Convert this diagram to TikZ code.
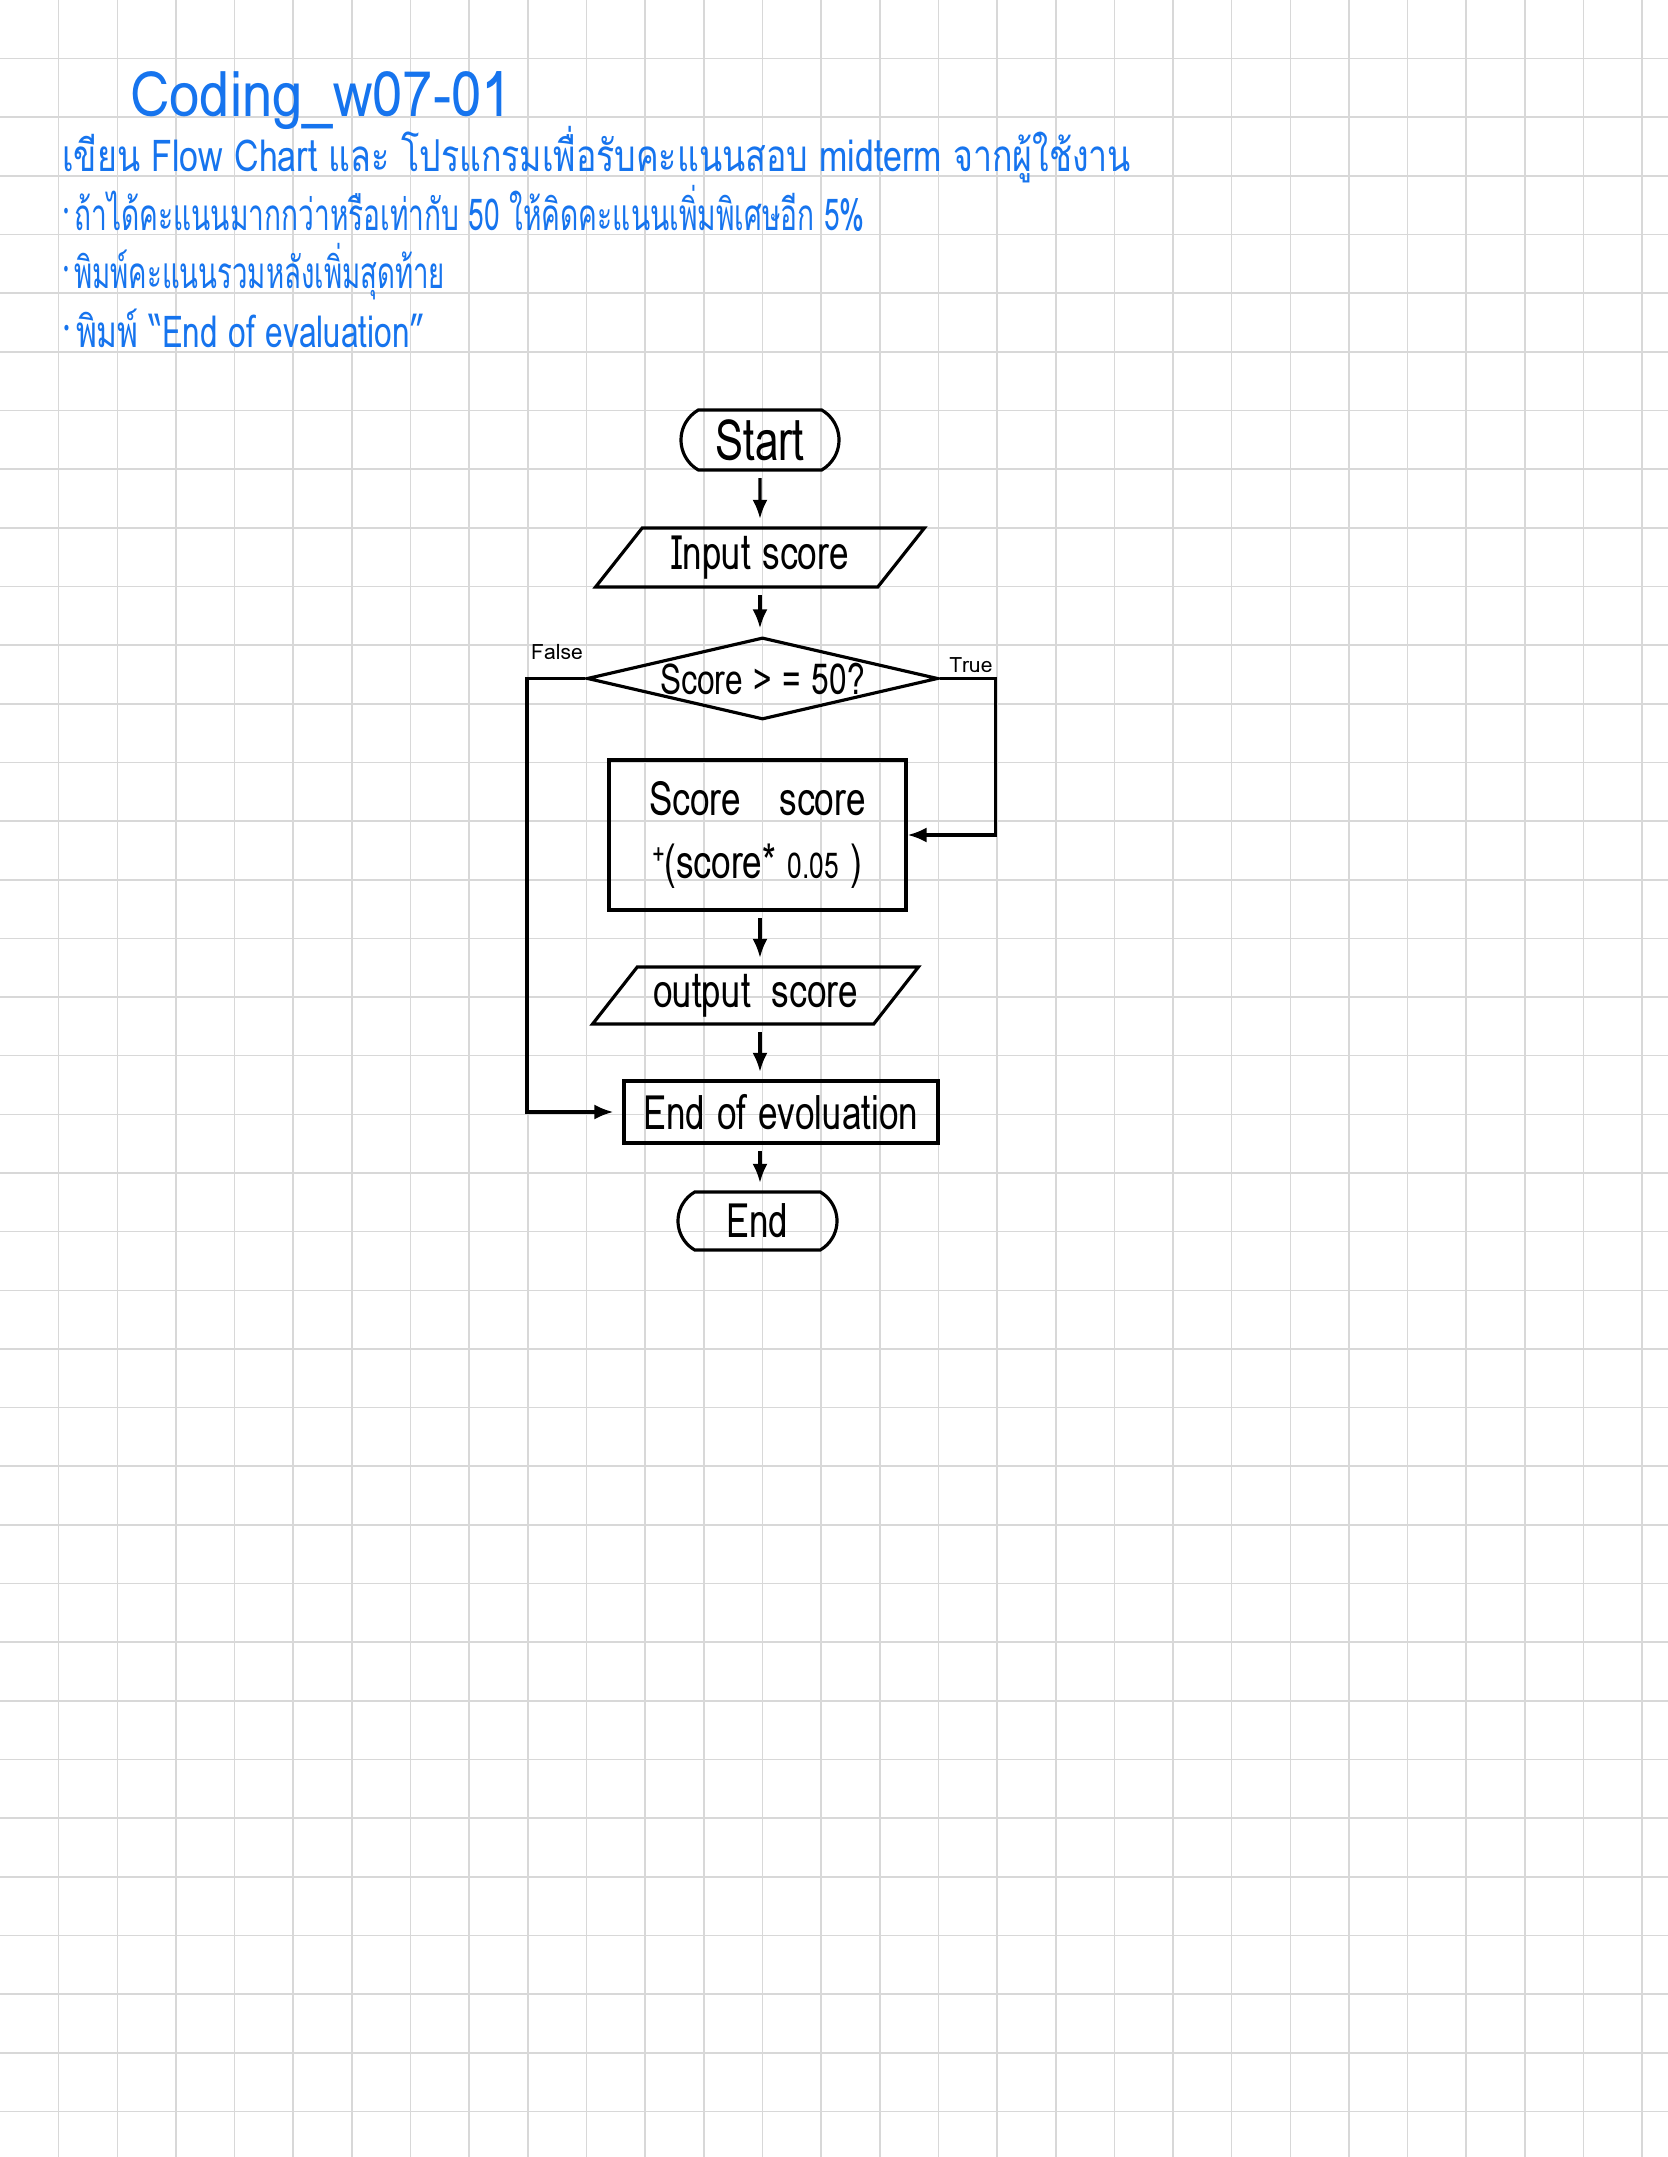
\documentclass[tikz,border=0pt]{standalone}
\usepackage{fontspec}
\setmainfont{Loma}[Script=Thai]
\newfontfamily\dejavu{DejaVu Sans}
\usepackage{tikz}
\usetikzlibrary{shapes,arrows.meta,positioning}
\definecolor{pen}{RGB}{22,116,238}
\definecolor{paper}{RGB}{216,216,216}
\newcommand{\dotitem}{\raisebox{0.55ex}{\dejavu\fontsize{9}{9}\selectfont •}\,}
\newcommand{\tall}[1]{\scalebox{1}[1.35]{#1}}

\begin{document}
\begin{tikzpicture}
				\tikzstyle{Grid}	= [draw=paper, line width=0.9pt]
				\tikzstyle{Note}	= [text=pen, anchor=base west, inner sep=0pt, font=\fontsize{20}{20}\selectfont]
				\tikzstyle{Hand}	= [font=\fontsize{20}{36}\selectfont]
				\tikzstyle{Box}		= [draw, line width=1.8pt, inner sep=0pt, align=center]
				\tikzstyle{Term}	= [rounded rectangle, rounded rectangle arc length=120]
				\tikzstyle{IO}		= [trapezium, trapezium stretches=true]
				\tikzstyle{Test}	= [diamond, aspect=4.28, inner ysep=-0.16cm]
				\tikzstyle{Flow}	= [line width=1.8pt, -{Latex[length=0.38cm,width=0.3cm]}]
				\tikzstyle{Gap}		= [shorten <=0.13cm, shorten >=0.15cm]
				\tikzstyle{Tag}		= [inner sep=0pt, font=\fontsize{12}{12}\selectfont]

				\useasboundingbox (0,0) rectangle (33.36,43.14);
				\fill [white] (0,0) rectangle (33.36,43.14);
				\foreach \i in {1,...,28} \draw [Grid] (\i*1.173,0) -- (\i*1.173,43.14);
				\foreach \j in {1,...,36} \draw [Grid] (0,43.14-\j*1.173) -- (33.36,43.14-\j*1.173);

				\node (title) at (2.60,40.80) [Note][font=\fontsize{31}{31}\selectfont] {\scalebox{1}[1.15]{Coding\_w07-01}};
				\node (task)  at (1.24,39.70) [Note] {\scalebox{0.965}[1.25]{เขียน Flow Chart และ โปรแกรมเพื่อรับคะแนนสอบ midterm จากผู้ใช้งาน}};
				\node (rule1) at (1.24,38.52) [Note] {\scalebox{0.80}[1.25]{\dotitem ถ้าได้คะแนนมากกว่าหรือเท่ากับ 50 ให้คิดคะแนนเพิ่มพิเศษอีก 5\%}};
				\node (rule2) at (1.24,37.36) [Note] {\scalebox{0.785}[1.25]{\dotitem พิมพ์คะแนนรวมหลังเพิ่มสุดท้าย}};
				\node (rule3) at (1.24,36.18) [Note] {\scalebox{0.90}[1.25]{\dotitem พิมพ์ “End of evaluation”}};

				\node (start) at (15.20,34.34) [Box][Term][Hand, minimum width=3.16cm, minimum height=1.20cm] {\fontsize{24}{24}\selectfont\tall{Start}};
				\node (input) at (15.20,31.99) [Box][IO][Hand, trapezium left angle=51, trapezium right angle=129, minimum width=6.58cm, minimum height=1.18cm] {\tall{Input score}};
				\node (check) at (15.25,29.57) [Box][Test][Hand, minimum width=7.02cm, minimum height=1.64cm] {\fontsize{18}{18}\selectfont\tall{Score > = 50?}};
				\node (bonus) at (15.15,26.44) [Box][Hand, minimum width=5.94cm, minimum height=3.00cm] {\tall{Score\hspace{1.1em}score}\\\tall{\raisebox{0.3em}{\fontsize{12}{12}\selectfont +}(score* {\fontsize{15}{15}\selectfont 0.05} )}};
				\node (print) at (15.11,23.23) [Box][IO][Hand, trapezium left angle=48, trapezium right angle=132, minimum width=6.52cm, minimum height=1.14cm] {\tall{output\hspace{0.6em}score}};
				\node (final) at (15.62,20.90) [Box][Hand, minimum width=6.28cm, minimum height=1.24cm] {\tall{End of evoluation}};
				\node (end)   at (15.15,18.72) [Box][Term][Hand, minimum width=3.18cm, minimum height=1.16cm] {\tall{End}};

				\coordinate (fbend) at (10.54,29.57);
				\coordinate (tbend) at (19.91,29.57);
				\node (lfalse) at (11.14,30.10) [Tag] {False};
				\node (ltrue)  at (19.42,29.84) [Tag] {True};

				\draw [Flow][Gap] (start) to (start |- input.north);
				\draw [Flow][Gap] (start |- input.south) to (start |- check.north);
				\draw [Flow][Gap] (start |- bonus.south) to (start |- print.north);
				\draw [Flow][Gap] (start |- print.south) to (start |- final.north);
				\draw [Flow][Gap] (start |- final.south) to (start |- end.north);
				\draw [Flow] (check.east) -- (tbend) |- (bonus.east);
				\draw [Flow][shorten >=0.18cm] (check.west) -- (fbend) |- (final.west);
\end{tikzpicture}
\end{document}
